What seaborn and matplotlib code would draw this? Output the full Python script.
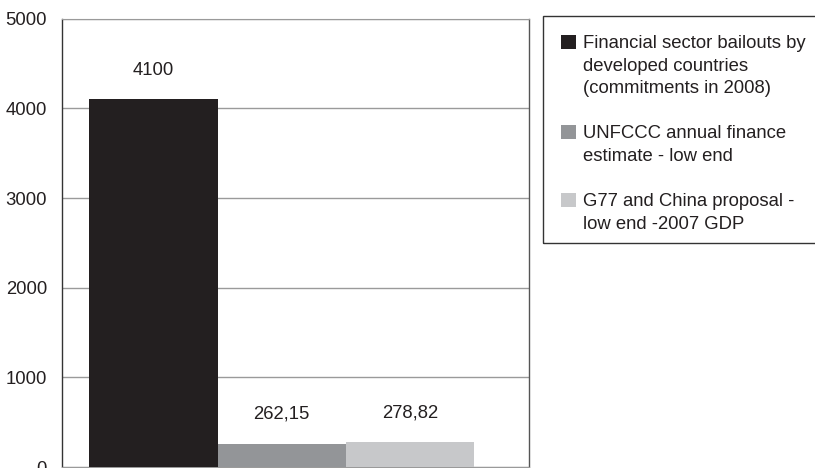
import matplotlib
matplotlib.use("Agg")
import matplotlib.pyplot as plt
import seaborn as sns
import pandas as pd

# data
categories = [
    "Financial sector bailouts by\ndeveloped countries\n(commitments in 2008)",
    "UNFCCC annual finance\nestimate - low end",
    "G77 and China proposal -\nlow end -2007 GDP",
]
values = [4100, 262.15, 278.82]
colors = ["#231f20", "#939598", "#c7c8ca"]
y_ticks = [0, 1000, 2000, 3000, 4000, 5000]

TEXT = "#231f20"

sns.set_style("white")
plt.rcParams["font.family"] = ["Liberation Sans", "DejaVu Sans"]

df = pd.DataFrame({"category": categories, "value": values})

fig = plt.figure(figsize=(8.15, 4.68), dpi=100)
ax = fig.add_axes([0.0764, 0.0021, 0.573, 0.958])

sns.barplot(data=df, x="category", y="value", hue="category",
            palette=colors, width=1.0, dodge=False, saturation=1,
            legend=False, ax=ax, zorder=3, linewidth=0, edgecolor="none")

# value labels above bars
for i, v in enumerate(values):
    txt = f"{v:g}".replace(".", ",")
    ax.annotate(txt, (i, v), xytext=(0, 21), textcoords="offset points",
                ha="center", va="center", fontsize=13.3, color=TEXT)

ax.set_xlim(-0.71, 2.93)
ax.set_ylim(0, 5000)
ax.set_yticks(y_ticks)
ax.set_yticklabels([str(t) for t in y_ticks])
ax.tick_params(axis="y", length=0, pad=11, labelsize=13.3, labelcolor=TEXT)
ax.set_xticks([])
ax.set_xlabel("")
ax.set_ylabel("")
ax.yaxis.grid(True, color="#9a9a9a", linewidth=1.0, zorder=0)
ax.set_axisbelow(True)

ax.spines["left"].set_color("#333333")
ax.spines["left"].set_linewidth(1.0)
ax.spines["right"].set_color("#555555")
ax.spines["right"].set_linewidth(1.0)
ax.spines["top"].set_color("#9a9a9a")
ax.spines["bottom"].set_color("#9a9a9a")

# legend
handles = [plt.Rectangle((0, 0), 1, 1, facecolor=c, edgecolor="none") for c in colors]
leg = fig.legend(handles, categories, loc="upper left",
                 bbox_to_anchor=(543 / 815, 1 - 16.3 / 468),
                 fontsize=13.3, frameon=True, fancybox=False,
                 edgecolor="#333333", handlelength=0.81, handleheight=0.81,
                 handletextpad=0.38, labelspacing=1.5, borderpad=1.0,
                 borderaxespad=0)
for t in leg.get_texts():
    t.set_color(TEXT)
    t.set_linespacing(1.45)
for col in leg._legend_handle_box.get_children():
    for row in col.get_children():
        row.align = "top"

# tighter frame at the bottom than matplotlib's symmetric padding
fig.canvas.draw()
bb = leg.get_window_extent().transformed(fig.transFigure.inverted())
leg.get_frame().set_visible(False)
bottom = bb.y0 + 8 / 468
fig.patches.append(plt.Rectangle((bb.x0, bottom), bb.width, bb.y1 - bottom,
                                 transform=fig.transFigure, fill=False,
                                 edgecolor="#333333", linewidth=1.0))

fig.savefig("out.png", dpi=100)
